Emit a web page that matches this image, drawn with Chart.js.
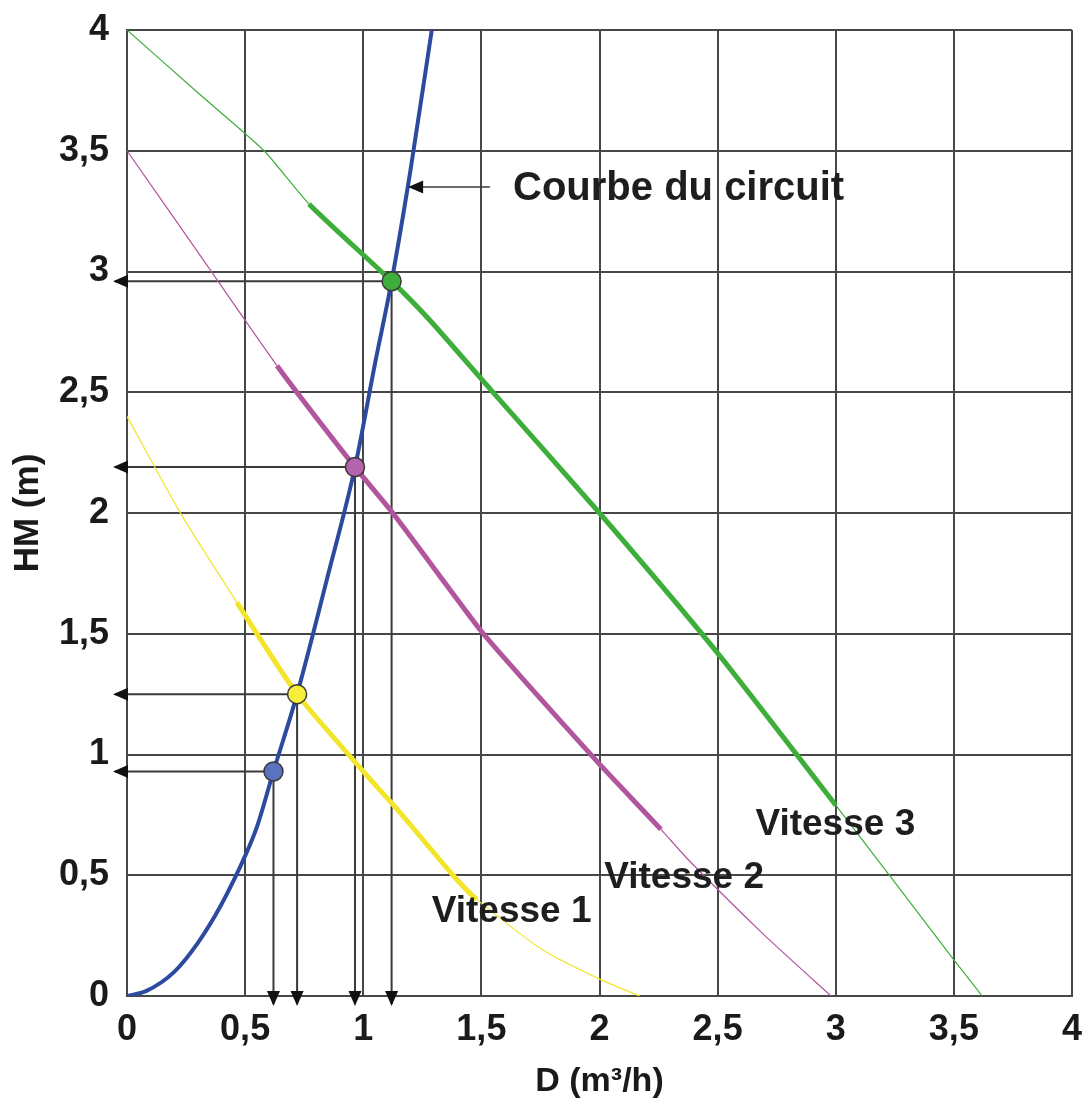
<!DOCTYPE html>
<html>
<head>
<meta charset="utf-8">
<script src="https://cdn.jsdelivr.net/npm/chart.js@4/dist/chart.umd.min.js"></script>
<style>
  html, body { margin: 0; padding: 0; background: #fff; }
  #wrap { width: 1085px; height: 1104px; }
</style>
</head>
<body>
<div id="wrap"><canvas id="chart" width="1085" height="1104"></canvas></div>
<script>
// ticks (same on both axes)
const tickLabels = ['0', '0,5', '1', '1,5', '2', '2,5', '3', '3,5', '4'];

// courbe du circuit
const circuitD = [0, 0.08, 0.2, 0.3, 0.4, 0.5, 0.55, 0.62, 0.72, 0.85, 0.965, 1.05, 1.12, 1.2, 1.29];
const circuitH = [0, 0.02, 0.1, 0.22, 0.38, 0.58, 0.7, 0.93, 1.25, 1.74, 2.19, 2.62, 2.96, 3.42, 4.0];

// vitesse 1
const v1D = [0, 0.22, 0.465, 0.72, 1.0, 1.155, 1.38, 1.48, 1.76, 2.0, 2.17];
const v1H = [2.4, 2.01, 1.63, 1.25, 0.93, 0.76, 0.5, 0.4, 0.19, 0.07, 0];
const v1Zone = [0.465, 1.48];

// vitesse 2
const v2D = [0, 0.3, 0.635, 0.965, 1.125, 1.5, 1.66, 2.0, 2.26, 2.38, 2.7, 2.98];
const v2H = [3.5, 3.08, 2.61, 2.19, 2.0, 1.51, 1.33, 0.96, 0.69, 0.56, 0.25, 0];
const v2Zone = [0.635, 2.26];

// vitesse 3
const v3D = [0, 0.3, 0.58, 0.77, 1.12, 1.28, 1.54, 2.0, 2.5, 3.0, 3.5, 3.62];
const v3H = [4, 3.74, 3.5, 3.28, 2.96, 2.8, 2.51, 2.0, 1.42, 0.79, 0.15, 0];
const v3Zone = [0.77, 3.0];

// points de fonctionnement
const opD = [0.62, 0.72, 0.965, 1.12];
const opH = [0.93, 1.25, 2.19, 2.96];
const opColors = ['#5a72bf', '#f6ee3a', '#b463ad', '#3fae3c'];

// textes
const notes = [
  { text: 'Courbe du circuit', x: 1.634, y: 3.34 },
  { text: 'Vitesse 1', x: 1.29, y: 0.35 },
  { text: 'Vitesse 2', x: 2.02, y: 0.49 },
  { text: 'Vitesse 3', x: 2.66, y: 0.71 }
];
const noteArrow = { from: 1.536, to: 1.19, y: 3.35 };

const pts = (xs, ys) => xs.map((x, i) => ({ x: x, y: ys[i] }));

function zoneWidth(zone) {
  return ctx => (ctx.p0.parsed.x >= zone[0] - 1e-6 && ctx.p1.parsed.x <= zone[1] + 1e-6) ? 5 : 1.2;
}

const gridColor = '#474747';
const tickFont = { family: 'Liberation Sans', size: 36, weight: 'bold' };

function arrowHead(c, x, y, dir) {
  const L = 15, W = 6.5;
  c.beginPath();
  if (dir === 'left') {
    c.moveTo(x, y); c.lineTo(x + L, y - W); c.lineTo(x + L, y + W);
  } else {
    c.moveTo(x, y); c.lineTo(x - W, y - L); c.lineTo(x + W, y - L);
  }
  c.closePath();
  c.fill();
}

function noPad(s) {
  s.paddingTop = 0; s.paddingBottom = 0; s.paddingLeft = 0; s.paddingRight = 0;
}

const extras = {
  id: 'extras',
  beforeDatasetsDraw(chart) {
    const c = chart.ctx, xs = chart.scales.x, ys = chart.scales.y;
    c.save();
    c.strokeStyle = '#3a3a3a';
    c.fillStyle = '#111';
    c.lineWidth = 2;
    const x0 = xs.getPixelForValue(0), y0 = ys.getPixelForValue(0);
    opD.forEach((d, i) => {
      const px = xs.getPixelForValue(d), py = ys.getPixelForValue(opH[i]);
      c.beginPath();
      c.moveTo(px, py); c.lineTo(x0 - 12, py);
      c.moveTo(px, py); c.lineTo(px, y0 + 8);
      c.stroke();
      arrowHead(c, x0 - 14, py, 'left');
      arrowHead(c, px, y0 + 10, 'down');
    });
    c.restore();
  },
  afterDatasetsDraw(chart) {
    const c = chart.ctx, xs = chart.scales.x, ys = chart.scales.y;
    c.save();
    c.strokeStyle = '#3a3a3a';
    c.fillStyle = '#111';
    c.lineWidth = 1.5;
    const ay = ys.getPixelForValue(noteArrow.y);
    const ax1 = xs.getPixelForValue(noteArrow.from), ax2 = xs.getPixelForValue(noteArrow.to);
    c.beginPath(); c.moveTo(ax1, ay); c.lineTo(ax2 + 10, ay); c.stroke();
    arrowHead(c, ax2, ay, 'left');
    c.fillStyle = '#1e1e1e';
    c.textBaseline = 'middle';
    c.textAlign = 'left';
    notes.forEach((n, i) => {
      c.font = (i === 0 ? 'bold 40px' : 'bold 37px') + ' "Liberation Sans"';
      c.fillText(n.text, xs.getPixelForValue(n.x), ys.getPixelForValue(n.y));
    });
    c.restore();
  }
};

new Chart(document.getElementById('chart'), {
  type: 'line',
  data: {
    datasets: [
      {
        label: 'Points',
        data: pts(opD, opH),
        showLine: false,
        pointRadius: 9.5,
        pointBackgroundColor: opColors,
        pointBorderColor: '#3a3a3a',
        pointBorderWidth: 1.5
      },
      {
        label: 'Courbe du circuit',
        data: pts(circuitD, circuitH),
        borderColor: '#2c4a9e',
        borderWidth: 4,
        pointRadius: 0,
        cubicInterpolationMode: 'monotone'
      },
      {
        label: 'Vitesse 1',
        data: pts(v1D, v1H),
        borderColor: '#f3e52a',
        pointRadius: 0,
        tension: 0.2,
        segment: { borderWidth: zoneWidth(v1Zone) }
      },
      {
        label: 'Vitesse 2',
        data: pts(v2D, v2H),
        borderColor: '#b2559f',
        pointRadius: 0,
        tension: 0.2,
        segment: { borderWidth: zoneWidth(v2Zone) }
      },
      {
        label: 'Vitesse 3',
        data: pts(v3D, v3H),
        borderColor: '#3eae3a',
        pointRadius: 0,
        tension: 0.2,
        segment: { borderWidth: zoneWidth(v3Zone) }
      }
    ]
  },
  options: {
    responsive: false,
    animation: false,
    events: [],
    layout: { padding: { top: 30, right: 13, left: 0, bottom: 0 }, autoPadding: false },
    plugins: { legend: { display: false }, tooltip: { enabled: false } },
    scales: {
      x: {
        type: 'linear', min: 0, max: 4,
        afterFit: s => { s.height = 108; noPad(s); },
        grid: { color: gridColor, lineWidth: 2, drawTicks: false },
        border: { color: gridColor, width: 2 },
        ticks: {
          stepSize: 0.5, padding: 12, color: '#1a1a1a', font: tickFont, maxRotation: 0,
          callback: (v, i) => tickLabels[i]
        },
        title: {
          display: true, text: 'D (m³/h)', color: '#1a1a1a',
          font: { family: 'Liberation Sans', size: 34, weight: 'bold' },
          padding: { top: 0, bottom: 2 }
        }
      },
      y: {
        type: 'linear', min: 0, max: 4,
        afterFit: s => { s.width = 127; noPad(s); },
        grid: { color: gridColor, lineWidth: 2, drawTicks: false },
        border: { color: gridColor, width: 2 },
        ticks: {
          stepSize: 0.5, padding: 18, color: '#1a1a1a', font: tickFont,
          callback: (v, i) => tickLabels[i]
        },
        title: {
          display: true, text: 'HM (m)', color: '#1a1a1a',
          font: { family: 'Liberation Sans', size: 35, weight: 'bold' },
          padding: { top: 7, bottom: 0 }
        }
      }
    }
  },
  plugins: [extras]
});
</script>
</body>
</html>
